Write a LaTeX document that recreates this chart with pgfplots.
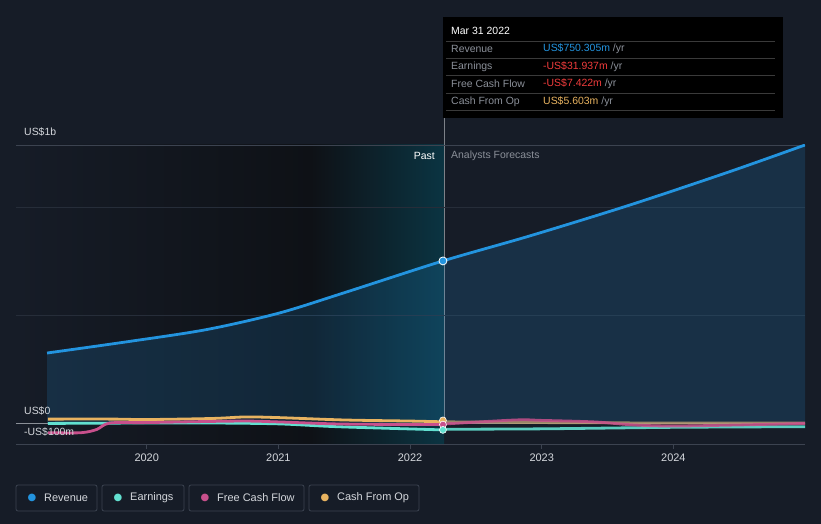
\documentclass[border=0pt]{standalone}
\usepackage{pgfplots}
\pgfplotsset{compat=1.18}
\usepackage{fontspec}
\setmainfont{Liberation Sans}
\newfontfamily\symfont{DejaVu Sans}

\definecolor{bg}{HTML}{161C27}
\definecolor{revcol}{HTML}{2394DF}
\definecolor{earncol}{HTML}{62E0D0}
\definecolor{fcfcol}{HTML}{C8508C}
\definecolor{cfocol}{HTML}{E8B360}
\definecolor{axcol}{HTML}{3C4350}
\definecolor{gridcol}{HTML}{262D39}
\definecolor{zerocol}{HTML}{8A8F97}
\definecolor{txtcol}{HTML}{D4D7DC}
\definecolor{dimcol}{HTML}{8B9099}
\definecolor{negcol}{HTML}{F03C3C}
\definecolor{sepcol}{HTML}{3A3A3A}
\definecolor{darkpast}{HTML}{0E1116}
\definecolor{tealpast}{HTML}{0B3442}

% x values are years since 2019 (3.25 = Mar 31 2022)
\begin{document}
\begin{tikzpicture}
\fill[bg] (0,0) rectangle (821bp,524bp);
% past regions (pixel coordinates, y down)
\begin{scope}[x=1bp,y=-1bp,yshift=524bp]
  \shade[left color=bg, right color=darkpast] (16,145) rectangle (311,444);
  \shade[left color=darkpast, right color=tealpast] (311,145) rectangle (444,444);
  \draw[gridcol!60!white] (444,17) -- (444,423);
\end{scope}

\begin{axis}[
    at={(16bp,80bp)}, anchor=south west,
    scale only axis, width=789bp, height=299bp,
    xmin=0.007, xmax=6, ymin=-97.2, ymax=1287,
    axis x line*=bottom, axis y line=none,
    x axis line style={draw=axcol, -},
    xtick={1,2,3,4,5},
    xticklabels={2020,2021,2022,2023,2024},
    ytick=\empty,
    tick style={draw=axcol, line width=0.8bp},
    tick align=outside, major tick length=5bp,
    xticklabel style={text=txtcol, font=\fontsize{11}{13}\selectfont, yshift=-1bp},
  ]
  % grid and reference lines
  \draw[gridcol] (axis cs:0.007,500) -- (axis cs:6,500);
  \draw[gridcol] (axis cs:0.007,1000) -- (axis cs:6,1000);
  \draw[axcol] (axis cs:0.007,1287) -- (axis cs:6,1287);
  \draw[zerocol, line width=0.8bp] (axis cs:0.007,0) -- (axis cs:6,0);

  % revenue area
  \addplot[draw=none, fill=revcol, fill opacity=0.17, smooth, tension=0.5] coordinates {
    (0.243,324) (0.85,376) (1.45,432) (2.0,508) (2.5,603)
    (3.25,750.305) (3.909,866) (4.669,1009) (5.43,1164) (6,1287)
  } \closedcycle;

  % cash from op
  \addplot[cfocol, line width=2.8bp, smooth, tension=0.5] coordinates {
    (0.25,18) (0.75,18) (1,16) (1.5,21) (1.75,28) (2,25) (2.5,14) (3,9) (3.25,5.603)
  };
  \addplot[cfocol!55!gray, line width=2.8bp, smooth, tension=0.5, opacity=0.8] coordinates {
    (3.25,5.603) (4,2) (5,0) (6,0)
  };
  % earnings
  \addplot[earncol, line width=2.8bp, smooth, tension=0.5] coordinates {
    (0.25,-2) (1,0) (1.5,0) (2,-4) (2.4,-16) (2.75,-23) (3.25,-31.937)
  };
  \addplot[earncol, line width=2.8bp, smooth, tension=0.5, opacity=0.9] coordinates {
    (3.25,-29) (4,-27) (5,-20) (6,-17)
  };
  % free cash flow
  \addplot[fcfcol, line width=2.8bp, smooth, tension=0.5] coordinates {
    (0.25,-45) (0.5,-45) (0.62,-30) (0.72,0) (1,2) (1.7,9) (2,5) (2.5,-5) (3.25,-7.422)
  };
  \addplot[fcfcol, line width=2.8bp, smooth, tension=0.5, opacity=0.85] coordinates {
    (3.25,-5) (3.8,14) (4,12) (4.4,5) (4.7,-9) (5,-14) (5.5,-9) (6,-2)
  };
  % revenue line
  \addplot[revcol, line width=2.8bp, smooth, tension=0.5] coordinates {
    (0.243,324) (0.85,376) (1.45,432) (2.0,508) (2.5,603)
    (3.25,750.305) (3.909,866) (4.669,1009) (5.43,1164) (6,1287)
  };
  % markers at Mar 31 2022
  \addplot[only marks, mark=*, mark size=4, mark options={fill=revcol, draw=white, line width=0.8pt}] coordinates {(3.25,750.305)};
  \addplot[only marks, mark=*, mark size=3.5, mark options={fill=cfocol, draw=white, line width=0.6pt}] coordinates {(3.25,12)};
  \addplot[only marks, mark=*, mark size=3.5, mark options={fill=fcfcol, draw=white, line width=0.6pt}] coordinates {(3.25,-7.422)};
  \addplot[only marks, mark=*, mark size=3.5, mark options={fill=earncol, draw=white, line width=0.6pt}] coordinates {(3.25,-31.937)};
\end{axis}

\begin{scope}[x=1bp,y=-1bp,yshift=524bp, every node/.style={inner sep=0pt, font=\fontsize{10.5}{12}\selectfont}]
  % y labels
  \node[anchor=west, text=txtcol] at (24,132) {US\$1b};
  \node[anchor=west, text=txtcol] at (24,411) {US\$0};
  \node[anchor=west, text=txtcol] at (24,432) {-US\$100m};
  % past / forecast labels
  \node[anchor=east, text=white] at (435,156) {Past};
  \node[anchor=west, text=dimcol] at (451,156) {Analysts Forecasts};
  % tooltip
  \fill[black] (443,17) rectangle (783,118);
  \foreach \yy in {41,58.5,75.5,93,110} \draw[sepcol, line width=0.7bp] (446,\yy) -- (775,\yy);
  \node[anchor=west, text=white] at (451,31) {Mar 31 2022};
  \node[anchor=west, text=dimcol] at (451,49) {Revenue};
  \node[anchor=west, text=dimcol] at (451,66.5) {Earnings};
  \node[anchor=west, text=dimcol] at (451,84) {Free Cash Flow};
  \node[anchor=west, text=dimcol] at (451,101.5) {Cash From Op};
  \node[anchor=west] at (543,49) {\textcolor{revcol}{US\$750.305m} \textcolor{dimcol}{/yr}};
  \node[anchor=west] at (543,66.5) {\textcolor{negcol}{-US\$31.937m} \textcolor{dimcol}{/yr}};
  \node[anchor=west] at (543,84) {\textcolor{negcol}{-US\$7.422m} \textcolor{dimcol}{/yr}};
  \node[anchor=west] at (543,101.5) {\textcolor{cfocol}{US\$5.603m} \textcolor{dimcol}{/yr}};
  % legend
  \begin{scope}[every node/.style={inner sep=0pt, font=\fontsize{11}{13}\selectfont, text=txtcol}]
    \draw[axcol, rounded corners=2bp, line width=0.8bp] (16,485) rectangle (97,511);
    \node[text=revcol] at (32,498) {\symfont\fontsize{10}{10}\selectfont ●};
    \node[anchor=west] at (44,498) {Revenue};
    \draw[axcol, rounded corners=2bp, line width=0.8bp] (102,485) rectangle (184,511);
    \node[text=earncol] at (118,498) {\symfont\fontsize{10}{10}\selectfont ●};
    \node[anchor=west] at (130,498) {Earnings};
    \draw[axcol, rounded corners=2bp, line width=0.8bp] (189,485) rectangle (304,511);
    \node[text=fcfcol] at (205,498) {\symfont\fontsize{10}{10}\selectfont ●};
    \node[anchor=west] at (217,498) {Free Cash Flow};
    \draw[axcol, rounded corners=2bp, line width=0.8bp] (309,485) rectangle (419,511);
    \node[text=cfocol] at (325,498) {\symfont\fontsize{10}{10}\selectfont ●};
    \node[anchor=west] at (337,498) {Cash From Op};
  \end{scope}
\end{scope}
\end{tikzpicture}
\end{document}
